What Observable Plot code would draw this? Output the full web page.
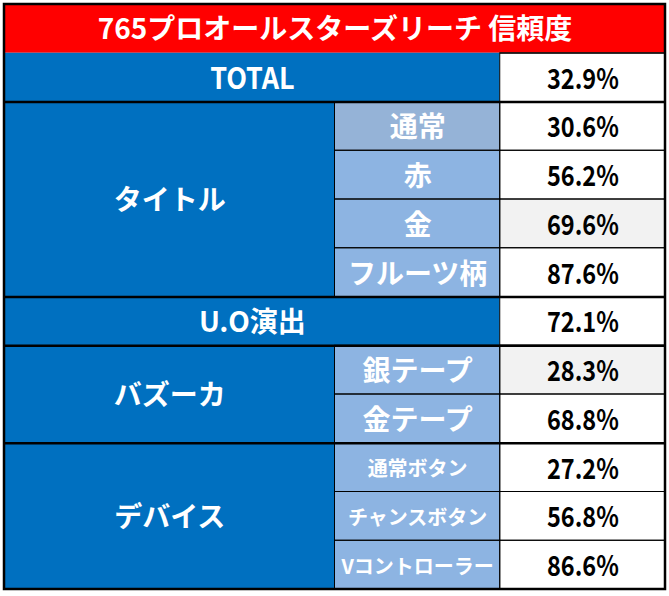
<!DOCTYPE html>
<html>
<head>
<meta charset="utf-8">
<script src="https://cdn.jsdelivr.net/npm/d3@7"></script>
<script src="https://cdn.jsdelivr.net/npm/@observablehq/plot@0.6"></script>
<style>
  html, body { margin: 0; padding: 0; background: #fff; }
  svg { display: block; }
</style>
</head>
<body>
<div id="chart"></div>
<script>
// ---- data ----
const title = "765プロオールスターズリーチ 信頼度";
const groups = ["TOTAL", "タイトル", "U.O演出", "バズーカ", "デバイス"];
const groupSizes = [1, 4, 1, 2, 3];
const subLabels = [null, "通常", "赤", "金", "フルーツ柄", null, "銀テープ", "金テープ", "通常ボタン", "チャンスボタン", "Vコントローラー"];
const values = [32.9, 30.6, 56.2, 69.6, 87.6, 72.1, 28.3, 68.8, 27.2, 56.8, 86.6];

// ---- styles ----
const RED = "#FF0000", BLUE = "#0070C0", LIGHT = "#8DB4E2", LIGHT_FIRST = "#95B3D7", SHADE = "#F2F2F2";
const shadedLabels = new Set(["金", "銀テープ"]);
const smallLabels = new Set(["通常ボタン", "チャンスボタン", "Vコントローラー"]);
const colEdges = [0, 2, 3, 4]; // group | sub label | value (relative widths)
const FONT = "'Noto Sans CJK JP', 'Noto Sans', sans-serif";

// ---- build cells ----
const nRows = values.length + 1;
const cells = [];
cells.push({x1: colEdges[0], x2: colEdges[3], y1: 0, y2: 1, fill: RED, text: title, color: "#fff", kind: "title"});
const groupEnds = [];
let row = 1;
groups.forEach((g, gi) => {
  const n = groupSizes[gi];
  const hasSub = subLabels[row - 1] != null;
  cells.push({x1: colEdges[0], x2: hasSub ? colEdges[1] : colEdges[2], y1: row, y2: row + n, fill: BLUE, text: g, color: "#fff",
              kind: /^[A-Z]+$/.test(g) ? "latin" : "label"});
  for (let k = 0; k < n; k++) {
    const r = row + k, s = subLabels[r - 1];
    if (s != null) {
      cells.push({x1: colEdges[1], x2: colEdges[2], y1: r, y2: r + 1, fill: (gi === 1 && k === 0) ? LIGHT_FIRST : LIGHT,
                  text: s, color: "#fff", kind: smallLabels.has(s) ? "small" : "label", sub: true});
    }
    cells.push({x1: colEdges[2], x2: colEdges[3], y1: r, y2: r + 1, fill: shadedLabels.has(s) ? SHADE : "#fff",
                text: values[r - 1].toFixed(1) + "%", color: "#000", kind: "value", value: true});
  }
  row += n;
  groupEnds.push(row);
});
const thinH = cells.filter(c => c.sub || c.value);
const thickLines = groupEnds.slice(0, -1).map(y => ({y}));

const textStyles = {
  title: {fontSize: 28, dy: 1, squeeze: 1},
  label: {fontSize: 28, dy: 2, squeeze: 1},
  small: {fontSize: 20, dy: 2, squeeze: 1},
  latin: {fontSize: 30, dy: 2, squeeze: 0.9},
  value: {fontSize: 28, dy: 2, squeeze: 0.84}
};

const chart = Plot.plot({
  width: 669,
  height: 596,
  margin: 0,
  x: {domain: [colEdges[0], colEdges[3]], range: [4, 665], axis: null},
  y: {domain: [0, nRows], range: [4, 589], axis: null},
  style: {background: "#fff"},
  marks: [
    Plot.rect(cells, {x1: "x1", x2: "x2", y1: "y1", y2: "y2", fill: "fill", inset: 0}),
    Plot.rect(thinH, {x1: "x1", x2: "x2", y1: "y1", y2: "y2", stroke: "#000", strokeWidth: 1, fill: "none", inset: 0}),
    Plot.ruleY(thickLines, {y: "y", x1: colEdges[0], x2: colEdges[3], stroke: "#000", strokeWidth: 2.5}),
    Plot.ruleY([1], {x1: colEdges[2], x2: colEdges[3], stroke: "#000", strokeWidth: 1}),
    Plot.rect([{}], {x1: colEdges[0], x2: colEdges[3], y1: 0, y2: nRows, fill: "none", stroke: "#000", strokeWidth: 2.5}),
    ...Object.entries(textStyles).map(([kind, st]) => Plot.text(cells.filter(c => c.kind === kind), {
      x: c => (c.x1 + c.x2) / 2,
      y: c => (c.y1 + c.y2) / 2,
      text: "text",
      fill: "color",
      fontWeight: "bold",
      fontFamily: FONT,
      textAnchor: "middle",
      lineAnchor: "middle",
      fontSize: st.fontSize,
      dy: st.dy
    }))
  ]
});
document.getElementById("chart").appendChild(chart);

// horizontally condense the Latin/number texts (narrow gothic look)
const squeezeByText = new Map(cells.map(c => [c.text, textStyles[c.kind].squeeze]));
d3.select(chart).selectAll("text").each(function() {
  const s = squeezeByText.get(this.textContent);
  if (!s || s === 1) return;
  const b = this.getBBox();
  const cx = b.x + b.width / 2;
  const prev = this.getAttribute("transform") || "";
  this.setAttribute("transform", `${prev} translate(${cx},0) scale(${s},1) translate(${-cx},0)`);
});
</script>
</body>
</html>
